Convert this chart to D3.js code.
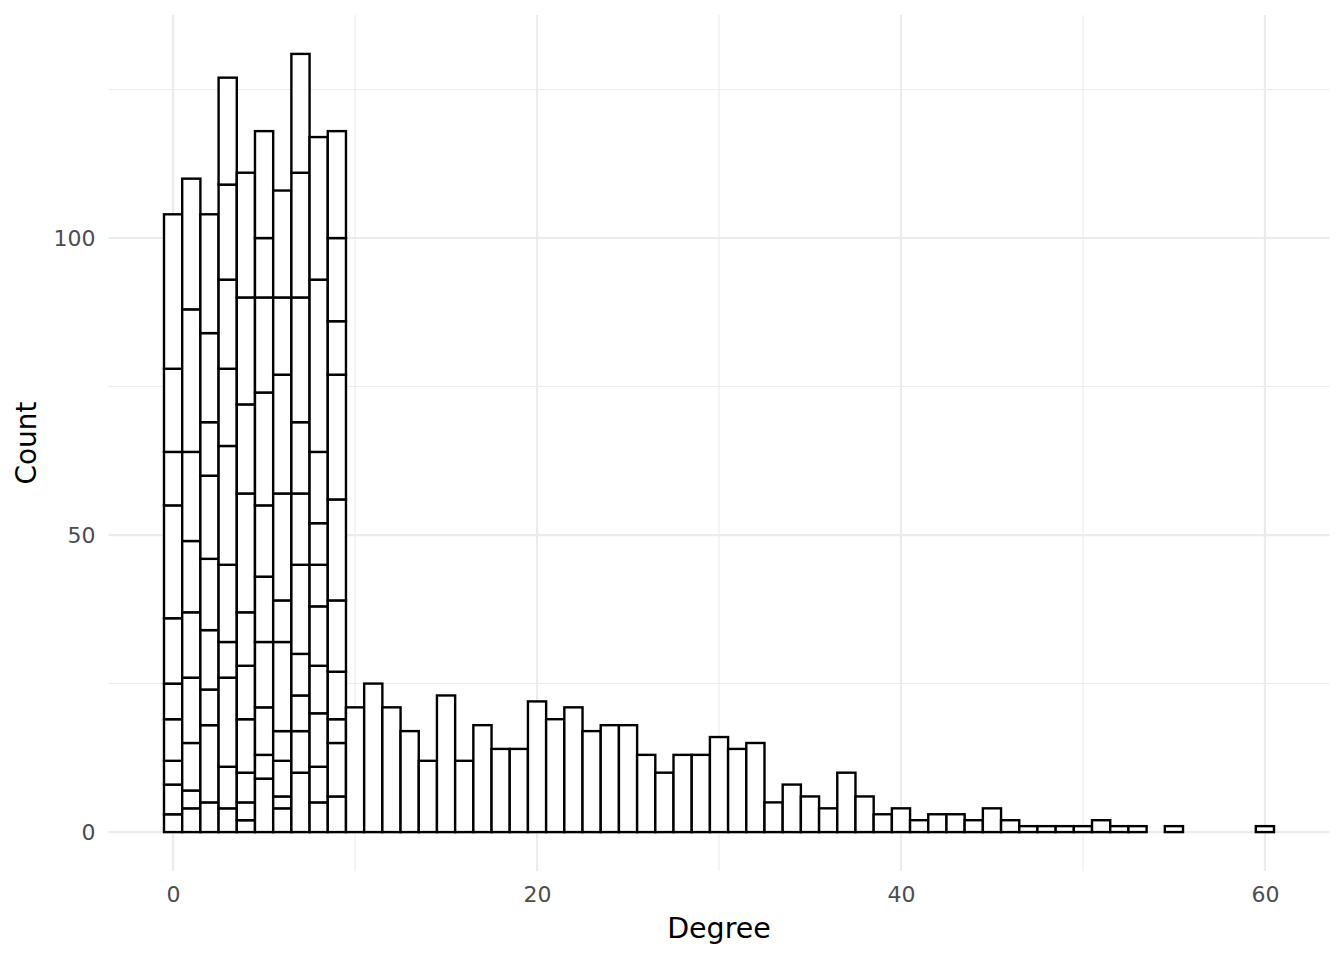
<!DOCTYPE html>
<html>
<head>
<meta charset="utf-8">
<script src="https://cdn.jsdelivr.net/npm/d3@7"></script>
<style>
  html, body { margin: 0; padding: 0; background: #fff; }
  svg { display: block; font-family: "DejaVu Sans", sans-serif; }
  svg text { font-family: "DejaVu Sans", sans-serif; }
</style>
</head>
<body>
<svg id="chart" width="1344" height="960"></svg>
<script>
// Stacked sub-counts (bottom to top) for degrees 0..9
const stackedDegrees = [0, 1, 2, 3, 4, 5, 6, 7, 8, 9];
const stackedSegments = [
  [3, 5, 4, 7, 6, 11, 19, 9, 14, 26],
  [4, 3, 8, 11, 11, 12, 15, 24, 22],
  [5, 13, 6, 10, 12, 14, 9, 15, 20],
  [4, 7, 15, 6, 13, 20, 13, 15, 16, 18],
  [2, 3, 5, 9, 9, 9, 20, 15, 18, 21],
  [9, 4, 8, 11, 11, 12, 19, 16, 10, 18],
  [4, 2, 6, 5, 15, 7, 18, 20, 13, 18],
  [10, 7, 6, 7, 15, 12, 12, 21, 21, 20],
  [5, 6, 9, 8, 10, 7, 7, 12, 29, 24],
  [6, 9, 4, 8, 12, 17, 21, 9, 14, 18]
];
// Single counts for degrees 10..60
const tailDegrees = d3.range(10, 61);
const tailCounts = [
  21, 25, 21, 17, 12, 23, 12, 18, 14, 14,
  22, 19, 21, 17, 18, 18, 13, 10, 13, 13,
  16, 14, 15, 5, 8, 6, 4, 10, 6, 3,
  4, 2, 3, 3, 2, 4, 2, 1, 1, 1,
  1, 2, 1, 1, 0, 1, 0, 0, 0, 0,
  1
];
const xMajorTicks = [0, 20, 40, 60];
const xMinorTicks = [10, 30, 50];
const yMajorTicks = [0, 50, 100];
const yMinorTicks = [25, 75, 125];
const xTitle = "Degree";
const yTitle = "Count";

// Build rect list
const rects = [];
stackedDegrees.forEach((d, i) => {
  let y0 = 0;
  stackedSegments[i].forEach(v => {
    rects.push({ deg: d, y0: y0, y1: y0 + v });
    y0 += v;
  });
});
tailDegrees.forEach((d, i) => {
  if (tailCounts[i] > 0) rects.push({ deg: d, y0: 0, y1: tailCounts[i] });
});

const svg = d3.select("#chart");
const panel = { left: 108.5, right: 1329.5, top: 15, bottom: 871 };

const xmin = -0.5, xmax = 60.5;
const xpad = (xmax - xmin) * 0.05;
const x = d3.scaleLinear().domain([xmin - xpad, xmax + xpad]).range([panel.left, panel.right]);
const ymaxVal = d3.max(rects, r => r.y1);
const ypad = ymaxVal * 0.05;
const y = d3.scaleLinear().domain([0 - ypad, ymaxVal + ypad]).range([panel.bottom, panel.top]);

const grid = svg.append("g");
grid.selectAll(".xminor").data(xMinorTicks).join("line")
  .attr("x1", d => x(d)).attr("x2", d => x(d))
  .attr("y1", panel.top).attr("y2", panel.bottom)
  .attr("stroke", "#EBEBEB").attr("stroke-width", 1.07);
grid.selectAll(".yminor").data(yMinorTicks).join("line")
  .attr("y1", d => y(d)).attr("y2", d => y(d))
  .attr("x1", panel.left).attr("x2", panel.right)
  .attr("stroke", "#EBEBEB").attr("stroke-width", 1.07);
grid.selectAll(".xmajor").data(xMajorTicks).join("line")
  .attr("x1", d => x(d)).attr("x2", d => x(d))
  .attr("y1", panel.top).attr("y2", panel.bottom)
  .attr("stroke", "#EBEBEB").attr("stroke-width", 2.13);
grid.selectAll(".ymajor").data(yMajorTicks).join("line")
  .attr("y1", d => y(d)).attr("y2", d => y(d))
  .attr("x1", panel.left).attr("x2", panel.right)
  .attr("stroke", "#EBEBEB").attr("stroke-width", 2.13);

svg.append("g").selectAll("rect").data(rects).join("rect")
  .attr("x", d => x(d.deg - 0.5))
  .attr("width", d => x(d.deg + 0.5) - x(d.deg - 0.5))
  .attr("y", d => y(d.y1))
  .attr("height", d => y(d.y0) - y(d.y1))
  .attr("fill", "#FFFFFF")
  .attr("stroke", "#000000")
  .attr("stroke-width", 2.4);

// Axes (text only, ggplot minimal)
const xAxis = d3.axisBottom(x).tickValues(xMajorTicks).tickSize(0).tickPadding(0);
const gx = svg.append("g").attr("transform", `translate(0,${panel.bottom})`).call(xAxis)
  .attr("font-family", "DejaVu Sans").attr("font-size", 22);
gx.select(".domain").remove();
gx.selectAll("text").attr("fill", "#4D4D4D")
  .attr("dy", null).attr("y", 31);

const yAxis = d3.axisLeft(y).tickValues(yMajorTicks).tickSize(0).tickPadding(0);
const gy = svg.append("g").attr("transform", `translate(${panel.left},0)`).call(yAxis)
  .attr("font-family", "DejaVu Sans").attr("font-size", 22);
gy.select(".domain").remove();
gy.selectAll("text").attr("fill", "#4D4D4D")
  .attr("x", -13).attr("dy", "0.35em");

svg.append("text").attr("x", (panel.left + panel.right) / 2).attr("y", 938)
  .attr("text-anchor", "middle").style("font-size", "28.5px").attr("fill", "#000")
  .text(xTitle);
svg.append("text")
  .attr("transform", `translate(36,${(panel.top + panel.bottom) / 2}) rotate(-90)`)
  .attr("text-anchor", "middle").style("font-size", "28px").attr("fill", "#000")
  .text(yTitle);
</script>
</body>
</html>
